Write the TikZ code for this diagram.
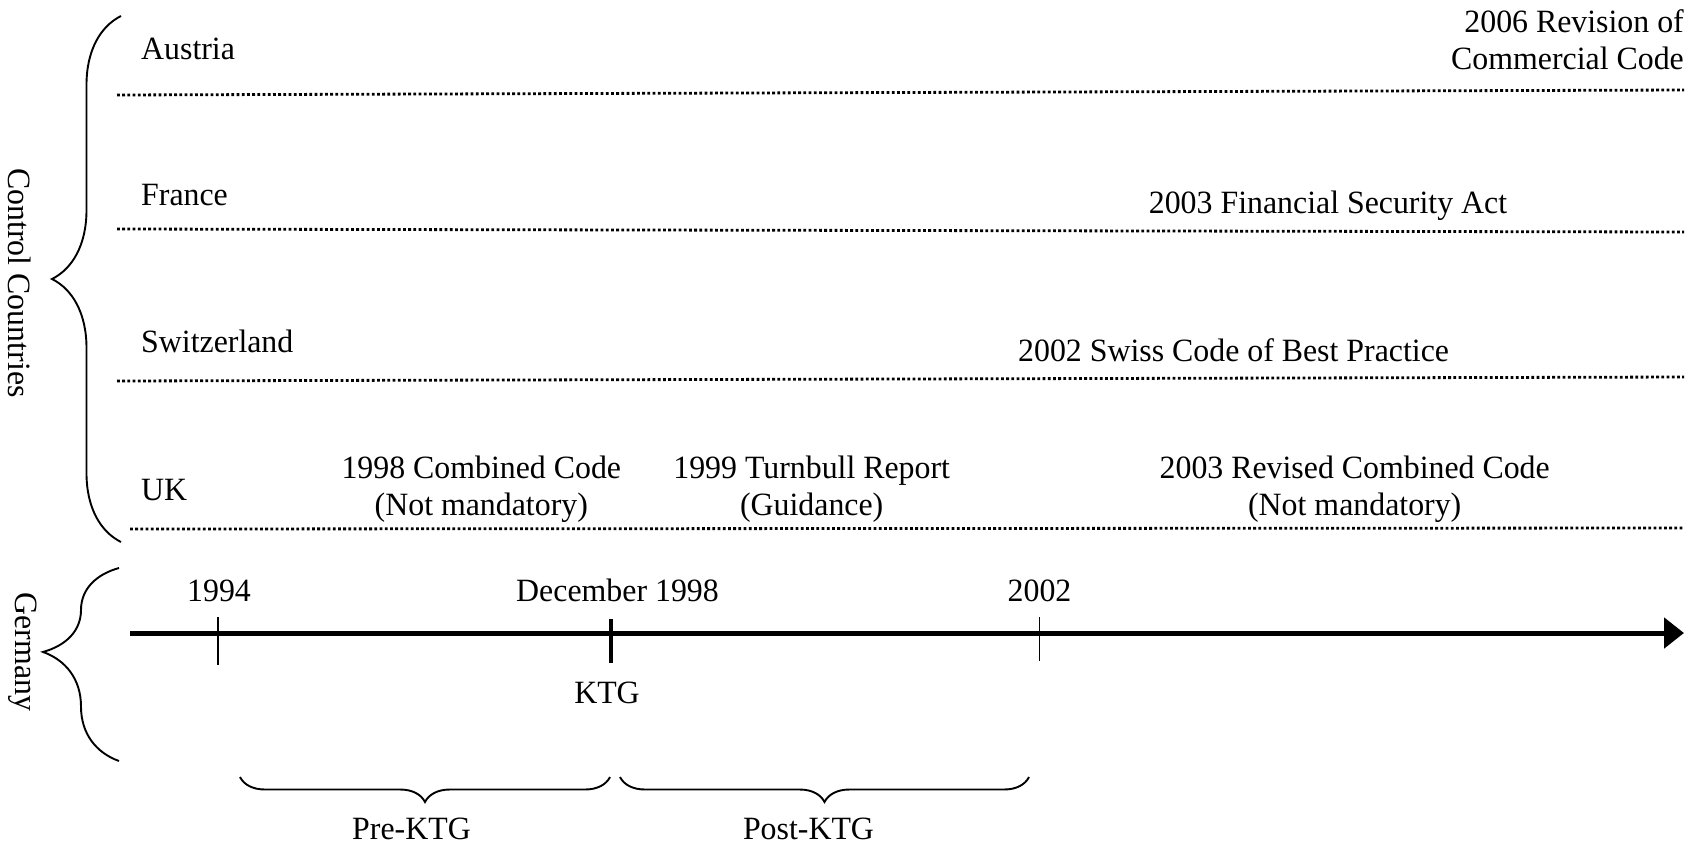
\documentclass[tikz,border=0pt]{standalone}
\usepackage{fontspec}
\setmainfont[FakeStretch=0.98]{Liberation Serif}
\usetikzlibrary{arrows.meta,decorations.pathreplacing}
\begin{document}
\begin{tikzpicture}[x=1pt,y=-1pt,
  lbl/.style={inner sep=0pt, font=\fontsize{32.5}{37}\selectfont},
  dotline/.style={line width=2.8pt, dash pattern=on 2.8pt off 2.4pt},
  bigbrace/.style={decorate, line width=1.9pt},
  tickthin/.style={line width=1.5pt},
  tickthick/.style={line width=4pt},
  timeline/.style={line width=5pt, -{Triangle[length=20pt,width=30pt]}}
]
\useasboundingbox (0,0) rectangle (1696,846);

% control countries brace
\coordinate (cbTop) at (121,16);
\coordinate (cbBot) at (121,542);
\draw[bigbrace, decoration={brace, amplitude=69pt, aspect=0.5}] (cbBot) -- (cbTop);
\node[lbl, rotate=-90] (ctrl) at (19.5,283) {Control Countries};

% germany brace
\coordinate (gbTop) at (119,568);
\coordinate (gbBot) at (119,761);
\draw[bigbrace, decoration={brace, amplitude=76pt, aspect=0.565}] (gbBot) -- (gbTop);
\node[lbl, rotate=-90] (ger) at (23,652) {Germany};

% country labels
\node[lbl, anchor=west] (aut) at (141,48.7) {Austria};
\node[lbl, anchor=west] (fra) at (141,194.7) {France};
\node[lbl, anchor=west] (swi) at (141,341.8) {Switzerland};
\node[lbl, anchor=west] (uk)  at (141,490) {UK};

% dotted lines
\coordinate (a0) at (117,95);   \coordinate (a1) at (1684,90);
\coordinate (f0) at (117,229);  \coordinate (f1) at (1684,232);
\coordinate (s0) at (117,381);  \coordinate (s1) at (1684,377);
\coordinate (u0) at (130,529);  \coordinate (u1) at (1684,528);
\draw[dotline] (a0) -- (a1);
\draw[dotline] (f0) -- (f1);
\draw[dotline] (s0) -- (s1);
\draw[dotline] (u0) -- (u1);

% events
\node[lbl, anchor=east, align=right] (ev2006) at (1684,39.5) {2006 Revision of\\Commercial Code};
\node[lbl] (ev2003f) at (1328,206) {2003 Financial Security Act};
\node[lbl] (ev2002s) at (1233.6,350) {2002 Swiss Code of Best Practice};
\node[lbl, align=center] (ev1998) at (481.3,489.5) {1998 Combined Code\\(Not mandatory)};
\node[lbl, align=center] (ev1999) at (811.7,489.5) {1999 Turnbull Report\\(Guidance)};
\node[lbl, align=center] (ev2003r) at (1354.7,489.5) {2003 Revised Combined Code\\(Not mandatory)};

% timeline
\coordinate (tl0) at (130,633);
\coordinate (tl1) at (1684,633);
\draw[timeline] (tl0) -- (tl1);

\coordinate (t94a) at (218,617);   \coordinate (t94b) at (218,665);
\coordinate (tkA) at (611,619);    \coordinate (tkB) at (611,663);
\coordinate (t02a) at (1039.5,617); \coordinate (t02b) at (1039.5,661);
\draw[tickthin] (t94a) -- (t94b);
\draw[tickthick] (tkA) -- (tkB);
\draw[tickthin] (t02a) -- (t02b);

\node[lbl] (y94) at (219,590.5) {1994};
\node[lbl] (y98) at (617.5,590.5) {December 1998};
\node[lbl] (y02) at (1039.5,590.5) {2002};
\node[lbl] (ktg) at (607,693) {KTG};

% period braces
\coordinate (pr0) at (240,777);  \coordinate (pr1) at (610,777);
\coordinate (po0) at (620,777);  \coordinate (po1) at (1029,777);
\draw[bigbrace, decoration={brace, amplitude=25pt}] (pr1) -- (pr0);
\draw[bigbrace, decoration={brace, amplitude=25pt}] (po1) -- (po0);
\node[lbl] (pre) at (411.5,829) {Pre-KTG};
\node[lbl] (post) at (808.5,829) {Post-KTG};
\end{tikzpicture}
\end{document}
